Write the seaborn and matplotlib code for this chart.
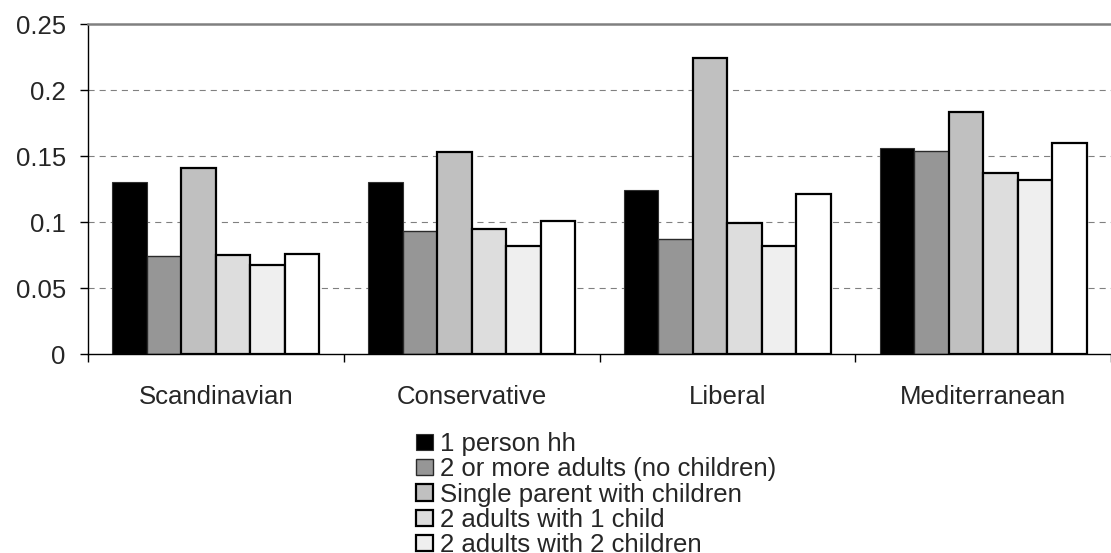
import matplotlib
matplotlib.use("Agg")
import matplotlib.pyplot as plt
import pandas as pd
import seaborn as sns

# Poverty rates by welfare regime and household type
regimes = ["Scandinavian", "Conservative", "Liberal", "Mediterranean"]
household_types = [
    "1 person hh",
    "2 or more adults (no children)",
    "Single parent with children",
    "2 adults with 1 child",
    "2 adults with 2 children",
    "2 adults with 3+ children",
]
one_person = [0.1305, 0.1305, 0.124, 0.156]
two_plus_adults = [0.0745, 0.093, 0.087, 0.154]
single_parent = [0.141, 0.153, 0.224, 0.183]
two_adults_one_child = [0.075, 0.0947, 0.099, 0.137]
two_adults_two_children = [0.0674, 0.0818, 0.0818, 0.132]
two_adults_three_children = [0.0755, 0.101, 0.121, 0.1596]
y_ticks = [0, 0.05, 0.1, 0.15, 0.2, 0.25]
y_tick_labels = ["0", "0.05", "0.1", "0.15", "0.2", "0.25"]

series = [one_person, two_plus_adults, single_parent,
          two_adults_one_child, two_adults_two_children, two_adults_three_children]
df = pd.DataFrame(
    [(r, h, vals[i]) for h, vals in zip(household_types, series) for i, r in enumerate(regimes)],
    columns=["regime", "household", "rate"],
)

sns.set_style("white")
plt.rcParams["font.family"] = ["Liberation Sans", "DejaVu Sans"]
FS = 18.5

W, H = 1111, 553
fig = plt.figure(figsize=(W / 100, H / 100), dpi=100)
ax = fig.add_axes([88 / W, 1 - 354 / H, (1111 - 88) / W, (354 - 24) / H])

sns.barplot(data=df, x="regime", y="rate", hue="household", order=regimes,
            hue_order=household_types, width=0.81, gap=0, legend=False,
            errorbar=None, ax=ax, saturation=1)

# Fill and edge per household type
styles = [
    dict(fc="#000000", ec="#303030", lw=0.8),
    dict(fc="#969696", ec="#2a2a2a", lw=1.0),
    dict(fc="#c0c0c0", ec="#000000", lw=1.6),
    dict(fc="#dddddd", ec="#000000", lw=1.6),
    dict(fc="#efefef", ec="#000000", lw=1.6),
    dict(fc="#ffffff", ec="#000000", lw=1.6),
]
handles = []
for cont, st in zip(ax.containers, styles):
    for bar in cont:
        bar.set_facecolor(st["fc"])
        bar.set_edgecolor(st["ec"])
        bar.set_linewidth(st["lw"])
    handles.append(cont[0])

ax.set_ylim(0, 0.25)
ax.set_xlim(-0.5, 3.5)
ax.set_yticks(y_ticks)
ax.set_yticklabels(y_tick_labels)
ax.set_xticks(range(len(regimes)))
ax.set_xticklabels(regimes)
ax.set_xlabel("")
ax.set_ylabel("")

# Dashed gridlines at inner ticks
for yv in y_ticks[1:-1]:
    ax.axhline(yv, color="#808080", lw=0.8, dashes=(5.5, 4.5), zorder=0.5)

# Category boundary ticks on the x axis
ax.set_xticks([-0.5, 0.5, 1.5, 2.5, 3.5], minor=True)
ax.tick_params(axis="x", which="major", length=0, pad=22, labelsize=FS)
ax.tick_params(axis="x", which="minor", length=6, width=1.0, color="#000000", direction="out")
ax.tick_params(axis="y", length=6, width=1.0, color="#000000", direction="out", pad=10, labelsize=FS)
ax.tick_params(left=True, bottom=True, which="both")

for side in ["left", "bottom"]:
    ax.spines[side].set_color("#000000")
    ax.spines[side].set_linewidth(1.0)
ax.spines["top"].set_color("#808080")
ax.spines["top"].set_linewidth(1.8)
ax.spines["right"].set_visible(False)

fig.legend(handles, household_types, loc="upper left",
           bbox_to_anchor=(416 / W, 1 - 432 / H), frameon=False, fontsize=FS,
           borderpad=0, borderaxespad=0, labelspacing=0.05, handlelength=0.68,
           handleheight=0.6, handletextpad=0.25)

fig.savefig("out.png", dpi=100)
